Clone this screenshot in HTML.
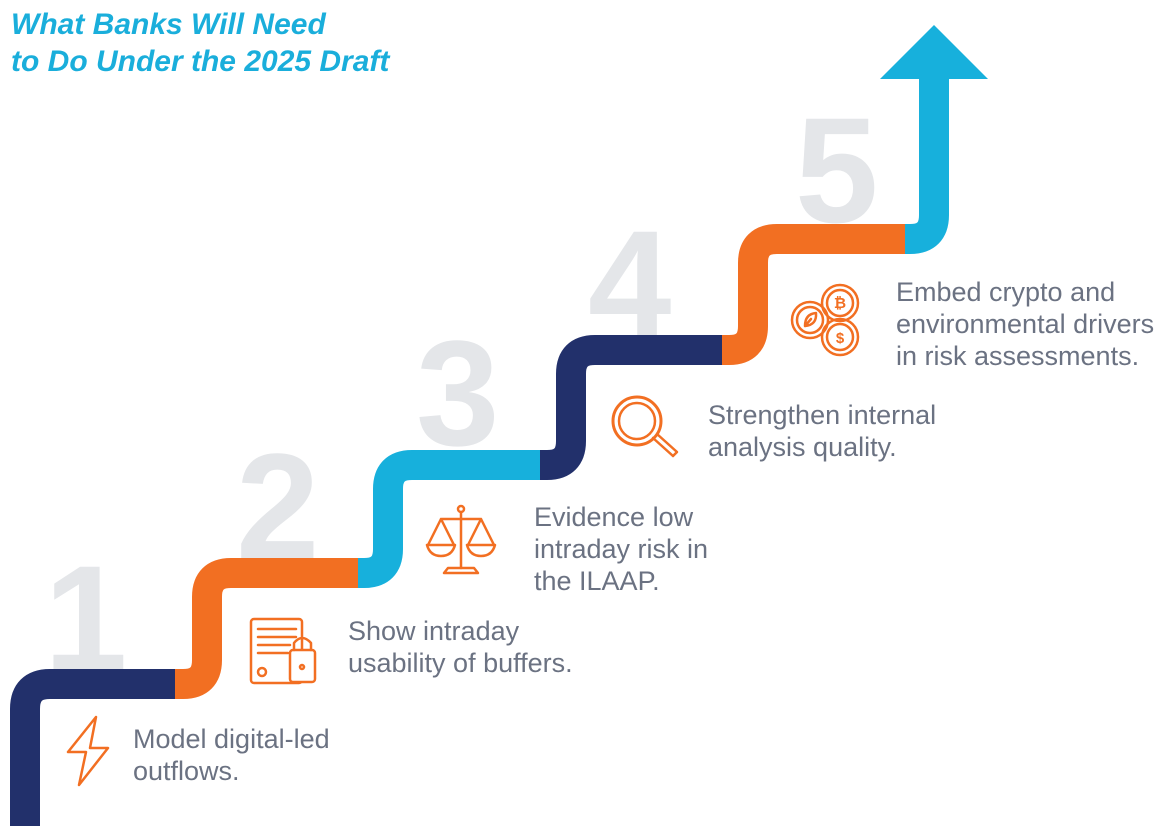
<!DOCTYPE html>
<html><head><meta charset="utf-8"><style>
html,body{margin:0;padding:0;background:#fff;}
body{width:1165px;height:826px;overflow:hidden;position:relative;}
svg{position:absolute;left:0;top:0;}
</style></head><body>
<svg width="1165" height="826" viewBox="0 0 1165 826" xmlns="http://www.w3.org/2000/svg">
<g font-family="Liberation Sans, sans-serif" font-weight="bold" font-style="italic" font-size="30" fill="#1aaedb">
<text x="11" y="34">What Banks Will Need</text>
<text x="11" y="71">to Do Under the 2025 Draft</text>
</g>
<g font-family="Liberation Sans, sans-serif" font-weight="bold" font-size="150" fill="#e4e6e9">
<text x="44" y="670">1</text>
<text x="236" y="558">2</text>
<text x="416" y="445">3</text>
<text x="588" y="335">4</text>
<text x="795" y="222">5</text>
</g>
<g fill="none" stroke-width="30">
<path d="M25 826 V709 Q25 684 50 684 H176" stroke="#22306b"/>
<path d="M175 684 H183 Q207 684 207 660 V597 Q207 573 231 573 H359" stroke="#f26f22"/>
<path d="M358 573 H364 Q388 573 388 549 V489 Q388 465 412 465 H541" stroke="#17b0dc"/>
<path d="M540 465 H547 Q571 465 571 441 V374 Q571 350 595 350 H723" stroke="#22306b"/>
<path d="M722 350 H729 Q753 350 753 326 V263 Q753 239 777 239 H906" stroke="#f26f22"/>
<path d="M905 239 H910 Q934 239 934 215 V78" stroke="#17b0dc"/>
</g>
<polygon points="880,79 988,79 934,25" fill="#17b0dc"/>
<g font-family="Liberation Sans, sans-serif" font-size="27" fill="#6b7282">
<text x="133" y="748">Model digital-led</text>
<text x="133" y="780">outflows.</text>
<text x="348" y="640">Show intraday</text>
<text x="348" y="672">usability of buffers.</text>
<text x="534" y="526">Evidence low</text>
<text x="534" y="558">intraday risk in</text>
<text x="534" y="590">the ILAAP.</text>
<text x="708" y="424">Strengthen internal</text>
<text x="708" y="456">analysis quality.</text>
<text x="896" y="301">Embed crypto and</text>
<text x="896" y="333">environmental drivers</text>
<text x="896" y="365">in risk assessments.</text>
</g>
<g fill="none" stroke="#f26f22" stroke-width="2.5" stroke-linejoin="round" stroke-linecap="round">
<path d="M96 717 L68 752 L86 752 L79 785 L108 748 L90 748 Z"/>
<rect x="251" y="619" width="51" height="64" rx="3"/>
<path d="M258 629 H296 M258 637 H296 M258 645 H290 M258 653 H288"/>
<circle cx="262" cy="672" r="4"/>
<rect x="290" y="650" width="25" height="32" rx="3" fill="#fff"/>
<path d="M294 650 V643 Q302 633 311 643 V650"/>
<circle cx="302" cy="667" r="2"/>
<circle cx="461" cy="509" r="3"/>
<path d="M461 512 V568 M442 519 H480 M441 519 L428 545 M441 519 L454 545 M481 519 L468 545 M481 519 L494 545"/>
<path d="M427 545 H455 Q452 556 441 556 Q430 556 427 545 Z"/>
<path d="M467 545 H495 Q492 556 481 556 Q470 556 467 545 Z"/>
<path d="M448 568 H474 L478 573 H444 Z"/>
<circle cx="637" cy="421" r="24" stroke-width="3"/>
<circle cx="637" cy="421" r="18"/>
<path d="M653 438 L673 456 M657 434 L677 452 M673 456 L677 452"/>
<circle cx="810" cy="320" r="18"/>
<circle cx="810" cy="320" r="13"/>
<circle cx="840" cy="303" r="18"/>
<circle cx="840" cy="303" r="13"/>
<circle cx="840" cy="337" r="18"/>
<circle cx="840" cy="337" r="13"/>
<path d="M805 326 Q805 314 816 313 Q817 325 805 326 Z M805 326 L811 319"/>
</g>
<g font-family="Liberation Sans, sans-serif" font-weight="bold" font-size="15" fill="#f26f22" text-anchor="middle">
<text x="840" y="308">₿</text>
<text x="840" y="343">$</text>
</g>
</svg>
</body></html>
